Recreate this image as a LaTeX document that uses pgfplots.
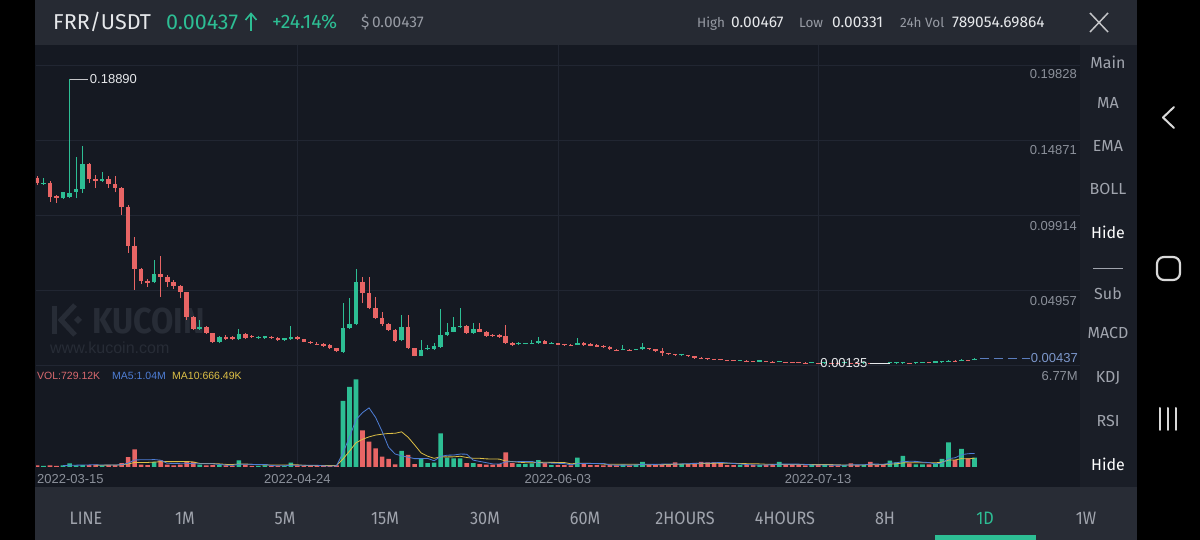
\documentclass[border=0pt]{standalone}
\usepackage{fontspec}
\setmainfont{Liberation Sans}
\newfontfamily\fira{Fira Sans}
\newfontfamily\firan[FakeStretch=0.9]{Fira Sans}
\usepackage{pgfplots}
\pgfplotsset{compat=1.18}
\usepackage{pgfplotstable}
\newcommand\fsz[1]{\fontsize{#1pt}{#1pt}\selectfont}

\definecolor{bgc}{HTML}{151922}
\definecolor{hdr}{HTML}{262A33}
\definecolor{side}{HTML}{1A1E27}
\definecolor{botbar}{HTML}{282C35}
\definecolor{gridc}{HTML}{212632}
\definecolor{kgreen}{HTML}{2DBE94}
\definecolor{kred}{HTML}{E86565}
\definecolor{lbl}{HTML}{8B909A}
\definecolor{hgray}{HTML}{979BA4}
\definecolor{txtw}{HTML}{E6E8EB}
\definecolor{ma5c}{HTML}{4E7ED6}
\definecolor{ma10c}{HTML}{DDBF45}
\definecolor{volc}{HTML}{D9696E}
\definecolor{wm}{HTML}{272C36}
\definecolor{curc}{HTML}{5B7DBE}
\definecolor{sidegray}{HTML}{A0A4AD}

% day index: 0 = 2022-03-15
\pgfplotstableread{
d o h l c v
1 0.12002 0.12379 0.11916 0.12068 0.08
4 0.11037 0.11454 0.10991 0.11434 0.12
5 0.11123 0.18890 0.11024 0.11407 0.27
6 0.11474 0.13787 0.11037 0.11652 0.12
7 0.11632 0.14494 0.11387 0.13304 0.15
10 0.12201 0.12775 0.12134 0.12313 0.12
18 0.05486 0.06959 0.05439 0.06034 0.39
25 0.02419 0.02994 0.02366 0.02551 0.19
28 0.01560 0.01936 0.01454 0.01851 0.15
31 0.01718 0.02399 0.01672 0.02049 0.52
34 0.01831 0.01936 0.01771 0.01870 0.08
35 0.01824 0.01969 0.01771 0.01917 0.12
38 0.01692 0.01837 0.01639 0.01784 0.08
39 0.01738 0.02617 0.01692 0.01851 0.33
47 0.00899 0.04137 0.00846 0.02445 5.10
48 0.02445 0.04428 0.02399 0.02730 6.18
49 0.02710 0.06345 0.02663 0.05525 6.77
56 0.01672 0.03324 0.01606 0.02551 1.24
59 0.00615 0.01672 0.00582 0.01011 0.62
60 0.01057 0.01342 0.01011 0.01163 0.29
61 0.01077 0.01474 0.01044 0.01276 0.33
62 0.01229 0.03701 0.01176 0.02003 2.60
63 0.02003 0.02776 0.01936 0.02221 0.72
64 0.02221 0.03212 0.02168 0.02551 0.67
65 0.02511 0.03767 0.02465 0.02597 0.67
67 0.02115 0.02815 0.02069 0.02379 0.29
74 0.01388 0.01507 0.01342 0.01454 0.23
75 0.01408 0.01474 0.01375 0.01441 0.23
76 0.01408 0.01672 0.01375 0.01494 0.27
77 0.01454 0.01890 0.01408 0.01626 0.54
79 0.01434 0.01507 0.01408 0.01474 0.15
83 0.01342 0.01824 0.01309 0.01494 0.72
90 0.01037 0.01322 0.01011 0.01077 0.19
92 0.01037 0.01110 0.01011 0.01077 0.19
93 0.01057 0.01494 0.01024 0.01190 0.39
99 0.00661 0.00727 0.00641 0.00694 0.23
108 0.00291 0.00350 0.00271 0.00317 0.15
111 0.00251 0.00311 0.00231 0.00284 0.15
114 0.00218 0.00271 0.00198 0.00245 0.39
119 0.00150 0.00200 0.00140 0.00180 0.19
121 0.00160 0.00178 0.00152 0.00168 0.15
124 0.00152 0.00168 0.00146 0.00160 0.15
127 0.00145 0.00160 0.00140 0.00152 0.15
131 0.00142 0.00155 0.00135 0.00150 0.50
132 0.00150 0.00160 0.00140 0.00155 0.35
133 0.00155 0.00172 0.00150 0.00165 0.85
135 0.00158 0.00185 0.00155 0.00175 0.20
136 0.00175 0.00200 0.00170 0.00190 0.20
138 0.00182 0.00215 0.00178 0.00200 0.28
139 0.00200 0.00250 0.00195 0.00230 0.62
140 0.00230 0.00340 0.00225 0.00310 1.91
142 0.00290 0.00390 0.00280 0.00360 1.39
144 0.00340 0.00467 0.00331 0.00437 0.73
}\gd

\pgfplotstableread{
d o h l c v
0 0.12379 0.12511 0.11916 0.12049 0.12
2 0.12068 0.12181 0.10813 0.11143 0.12
3 0.11189 0.11255 0.10747 0.11057 0.08
8 0.13304 0.13370 0.12049 0.12293 0.15
9 0.12293 0.12577 0.11718 0.12201 0.19
11 0.12293 0.12511 0.11738 0.11982 0.15
12 0.11982 0.12511 0.11434 0.11698 0.15
13 0.11698 0.11784 0.09934 0.10482 0.29
14 0.10482 0.10594 0.07442 0.07885 0.77
15 0.07885 0.08460 0.04977 0.06365 1.37
16 0.06365 0.06431 0.05373 0.05592 0.19
17 0.05592 0.05704 0.05195 0.05459 0.15
19 0.06034 0.07224 0.04534 0.05816 0.52
20 0.05856 0.05968 0.05195 0.05486 0.18
21 0.05486 0.05638 0.05043 0.05261 0.13
22 0.05261 0.05307 0.04428 0.04825 0.19
23 0.04825 0.04877 0.02994 0.03172 0.39
24 0.03172 0.03258 0.02333 0.02419 0.39
26 0.02511 0.02597 0.02069 0.02115 0.12
27 0.02115 0.02135 0.01494 0.01560 0.15
29 0.01890 0.02003 0.01705 0.01758 0.12
30 0.01851 0.01936 0.01672 0.01718 0.09
32 0.02049 0.02135 0.01738 0.01824 0.19
33 0.01910 0.02003 0.01804 0.01870 0.09
36 0.01870 0.01936 0.01738 0.01784 0.09
37 0.01804 0.01870 0.01626 0.01672 0.08
40 0.01870 0.01936 0.01672 0.01718 0.12
41 0.01718 0.01771 0.01507 0.01560 0.09
42 0.01560 0.01606 0.01408 0.01454 0.08
43 0.01428 0.01507 0.01342 0.01395 0.06
44 0.01428 0.01474 0.01229 0.01276 0.08
45 0.01322 0.01375 0.01077 0.01124 0.09
46 0.01124 0.01143 0.00879 0.00945 0.12
50 0.05525 0.05836 0.04117 0.04758 2.83
51 0.04758 0.05816 0.03688 0.03767 1.95
52 0.03767 0.04514 0.03060 0.03106 1.44
53 0.03106 0.03542 0.02630 0.02710 0.80
54 0.02710 0.02763 0.02267 0.02333 0.62
55 0.02333 0.02399 0.01573 0.01626 0.21
57 0.02551 0.03324 0.01077 0.01124 0.93
58 0.01124 0.01176 0.00582 0.00615 0.23
66 0.02597 0.02663 0.02069 0.02115 0.29
68 0.02379 0.02776 0.02168 0.02221 0.23
69 0.02221 0.02267 0.01903 0.01936 0.19
70 0.02003 0.02069 0.01903 0.01963 0.19
71 0.02003 0.02036 0.01837 0.01890 0.23
72 0.01936 0.02663 0.01408 0.01454 1.13
73 0.01454 0.01507 0.01276 0.01322 0.29
78 0.01606 0.01672 0.01375 0.01408 0.31
80 0.01454 0.01494 0.01328 0.01361 0.15
81 0.01388 0.01408 0.01276 0.01322 0.15
82 0.01342 0.01375 0.01276 0.01302 0.12
84 0.01454 0.01507 0.01276 0.01322 0.23
85 0.01388 0.01441 0.01243 0.01276 0.15
86 0.01342 0.01388 0.01190 0.01229 0.15
87 0.01295 0.01342 0.01143 0.01190 0.12
88 0.01229 0.01276 0.01011 0.01057 0.15
89 0.01031 0.01077 0.00945 0.00991 0.12
91 0.01031 0.01057 0.00965 0.00991 0.12
94 0.01124 0.01176 0.01011 0.01057 0.15
95 0.01077 0.01110 0.00879 0.00925 0.15
96 0.00945 0.01124 0.00634 0.00793 0.23
97 0.00813 0.00846 0.00681 0.00727 0.23
98 0.00727 0.00747 0.00628 0.00661 0.35
100 0.00661 0.00681 0.00562 0.00595 0.23
101 0.00595 0.00615 0.00430 0.00463 0.31
102 0.00496 0.00529 0.00430 0.00463 0.39
103 0.00463 0.00482 0.00370 0.00397 0.35
104 0.00423 0.00449 0.00363 0.00390 0.35
105 0.00397 0.00416 0.00330 0.00350 0.35
106 0.00363 0.00383 0.00311 0.00330 0.15
107 0.00330 0.00350 0.00271 0.00291 0.15
109 0.00311 0.00337 0.00251 0.00271 0.15
110 0.00284 0.00311 0.00231 0.00251 0.19
112 0.00271 0.00291 0.00218 0.00231 0.15
113 0.00251 0.00271 0.00198 0.00218 0.23
115 0.00231 0.00251 0.00178 0.00198 0.19
116 0.00218 0.00238 0.00165 0.00185 0.15
117 0.00205 0.00218 0.00152 0.00165 0.15
118 0.00185 0.00205 0.00140 0.00152 0.12
120 0.00170 0.00180 0.00150 0.00160 0.15
122 0.00168 0.00175 0.00150 0.00158 0.12
123 0.00160 0.00170 0.00145 0.00152 0.12
125 0.00160 0.00166 0.00144 0.00150 0.27
126 0.00150 0.00158 0.00140 0.00145 0.15
128 0.00152 0.00158 0.00140 0.00146 0.39
129 0.00146 0.00152 0.00138 0.00142 0.15
130 0.00150 0.00156 0.00138 0.00142 0.23
134 0.00165 0.00175 0.00152 0.00158 0.27
137 0.00190 0.00198 0.00175 0.00182 0.20
141 0.00310 0.00330 0.00270 0.00290 0.54
143 0.00360 0.00380 0.00320 0.00340 0.67
}\rd

\pgfplotstableread{
d m5 m10
4 0.104 nan
5 0.134 nan
6 0.142 nan
7 0.148 nan
8 0.162 nan
9 0.176 0.140
10 0.146 0.140
11 0.152 0.147
12 0.152 0.150
13 0.180 0.171
14 0.296 0.236
15 0.546 0.346
16 0.554 0.353
17 0.554 0.353
18 0.574 0.377
19 0.524 0.410
20 0.286 0.416
21 0.274 0.414
22 0.282 0.418
23 0.282 0.428
24 0.256 0.390
25 0.258 0.272
26 0.256 0.265
27 0.248 0.265
28 0.200 0.241
29 0.146 0.201
30 0.126 0.192
31 0.206 0.231
32 0.214 0.231
33 0.202 0.201
34 0.194 0.170
35 0.200 0.163
36 0.114 0.160
37 0.092 0.153
38 0.090 0.146
39 0.140 0.167
40 0.140 0.170
41 0.140 0.127
42 0.140 0.116
43 0.136 0.113
44 0.086 0.113
45 0.080 0.110
46 0.086 0.113
47 1.090 0.615
48 2.314 1.225
49 3.652 1.869
50 4.200 2.140
51 4.566 2.326
52 3.834 2.462
53 2.758 2.536
54 1.528 2.590
55 1.004 2.602
56 0.862 2.714
57 0.760 2.297
58 0.646 1.702
59 0.646 1.087
60 0.662 0.833
61 0.480 0.671
62 0.814 0.787
63 0.912 0.779
64 0.922 0.784
65 0.998 0.830
66 0.990 0.735
67 0.528 0.671
68 0.430 0.671
69 0.334 0.628
70 0.238 0.618
71 0.226 0.608
72 0.394 0.461
73 0.406 0.418
74 0.414 0.374
75 0.422 0.330
76 0.430 0.328
77 0.312 0.353
78 0.316 0.361
79 0.300 0.357
80 0.284 0.353
81 0.260 0.345
82 0.176 0.244
83 0.258 0.287
84 0.274 0.287
85 0.274 0.279
86 0.274 0.267
87 0.274 0.225
88 0.160 0.209
89 0.138 0.206
90 0.146 0.210
91 0.140 0.207
92 0.154 0.214
93 0.202 0.181
94 0.208 0.173
95 0.200 0.173
96 0.222 0.181
97 0.230 0.192
98 0.222 0.212
99 0.238 0.223
100 0.254 0.227
101 0.270 0.246
102 0.302 0.266
103 0.302 0.262
104 0.326 0.282
105 0.350 0.302
106 0.318 0.294
107 0.270 0.286
108 0.230 0.266
109 0.190 0.258
110 0.158 0.254
111 0.158 0.238
112 0.158 0.214
113 0.174 0.202
114 0.222 0.206
115 0.222 0.190
116 0.222 0.190
117 0.222 0.190
118 0.200 0.187
119 0.160 0.191
120 0.152 0.187
121 0.152 0.187
122 0.146 0.184
123 0.146 0.173
124 0.138 0.149
125 0.162 0.157
126 0.162 0.157
127 0.168 0.157
128 0.222 0.184
129 0.222 0.180
130 0.214 0.188
131 0.284 0.223
132 0.324 0.246
133 0.416 0.319
134 0.440 0.331
135 0.434 0.324
136 0.374 0.329
137 0.344 0.334
138 0.230 0.323
139 0.300 0.370
140 0.642 0.538
141 0.710 0.542
142 0.948 0.646
143 1.026 0.628
144 1.048 0.674
}\mad

\pgfplotsset{kaxis/.style={
  scale only axis, anchor=south west, width=1044pt,
  xmin=-0.154, xmax=160.2,
  axis line style={draw=none}, tick style={draw=none}, major tick length=0pt,
  xtick={40,80,120}, xticklabels={,,},
  tick label style={opacity=0},
  grid=major, major grid style={gridc, line width=0.7pt},
  clip=true,
}}

\begin{document}
\begin{tikzpicture}
\useasboundingbox (0,0) rectangle (1200pt,540pt);
\fill[black] (0,0) rectangle (1200pt,540pt);
\begin{scope}[x=1pt,y=-1pt,shift={(0pt,540pt)}, every node/.style={inner sep=0pt}]
  \fill[bgc] (35,45) rectangle (1080,487);
  \fill[side] (1080,45) rectangle (1137,487);
  \fill[hdr] (35,0) rectangle (1137,45);
  \fill[botbar] (35,487) rectangle (1137,540);
  % watermark
  \draw[wm, line width=5pt] (54,306) -- (54,334);
  \draw[wm, line width=5pt, line join=miter] (75,305) -- (61,320) -- (75,335);
  \fill[wm] (78,316) -- (82,320) -- (78,324) -- (74,320) -- cycle;
  \node[anchor=base west, font=\firan\bfseries\fsz{36}, text=wm] at (92,334) {KUCOIN};
  \node[anchor=base west, font=\fsz{16}, text=wm] at (50,354) {www.kucoin.com};
\end{scope}

% ---------- price panel ----------
\begin{axis}[kaxis, at={(36pt,170pt)}, height=325pt,
  ymin=-0.0031, ymax=0.21169,
  ytick={0,0.04957,0.09914,0.14871,0.19828}, yticklabels={,,,,}]
  \addplot[kgreen, line width=1pt, quiver={u=0, v=\thisrow{h}-\thisrow{l}}] table[x=d, y=l] {\gd};
  \addplot[kred, line width=1pt, quiver={u=0, v=\thisrow{h}-\thisrow{l}}] table[x=d, y=l] {\rd};
  \addplot[kgreen, line width=4.6pt, quiver={u=0, v={max(\thisrow{c}-\thisrow{o},0.0007)}}] table[x=d, y=o] {\gd};
  \addplot[kred, line width=4.6pt, quiver={u=0, v={min(\thisrow{c}-\thisrow{o},-0.0007)}}] table[x=d, y=o] {\rd};
  \draw[txtw!85!black, line width=0.8pt] (axis cs:5,0.18890) -- ++(18pt,0pt)
     node[anchor=west, inner sep=2pt, font=\fsz{13}, text=txtw] {0.18890};
  \draw[txtw, line width=1pt] (axis cs:131,0.00135) -- ++(-20pt,0pt)
     node[anchor=east, inner sep=2pt, font=\fsz{13}, text=txtw] {0.00135};
  \draw[curc, line width=0.9pt, dash pattern=on 9pt off 5pt] (axis cs:144.8,0.00437) -- (axis cs:152.5,0.00437);
\end{axis}

% ---------- volume panel ----------
\begin{axis}[kaxis, at={(36pt,73pt)}, height=97pt,
  ymin=0, ymax=7.49, ytick=\empty]
  \addplot[ybar, bar width=4.6pt, bar shift=0pt, fill=kgreen, draw=none] table[x=d, y=v] {\gd};
  \addplot[ybar, bar width=4.6pt, bar shift=0pt, fill=kred, draw=none] table[x=d, y=v] {\rd};
  \addplot[ma10c, line width=0.8pt, mark=none] table[x=d, y=m10] {\mad};
  \addplot[ma5c, line width=0.8pt, mark=none] table[x=d, y=m5] {\mad};
\end{axis}

\begin{scope}[x=1pt,y=-1pt,shift={(0pt,540pt)}, every node/.style={inner sep=0pt}]
  % header
  \node[anchor=base west, font=\fira\fsz{21.5}, text=txtw] at (53,29.5) {FRR/USDT};
  \node[anchor=base west, font=\fira\fsz{21.5}, text=kgreen] at (166,29.5) {0.00437};
  \draw[kgreen, line width=1.6pt] (251,31) -- (251,14);
  \draw[kgreen, line width=1.6pt] (245.5,20) -- (251,13.5) -- (256.5,20);
  \node[anchor=base west, font=\fira\fsz{19.5}, text=kgreen] at (272,29) {+24.14\%};
  \node[anchor=base west, font=\fira\fsz{15.5}, text=hgray] at (361,28) {\$\,0.00437};
  \node[anchor=base west, font=\fira\fsz{13.5}, text=hgray] at (697,27.5) {High};
  \node[anchor=base west, font=\fira\fsz{15.5}, text=txtw] at (731,28) {0.00467};
  \node[anchor=base west, font=\fira\fsz{13.5}, text=hgray] at (799,27.5) {Low};
  \node[anchor=base west, font=\fira\fsz{15.5}, text=txtw] at (832,28) {0.00331};
  \node[anchor=base west, font=\fira\fsz{13.5}, text=hgray] at (900,27.5) {24h Vol};
  \node[anchor=base west, font=\fira\fsz{15.5}, text=txtw] at (952,28) {789054.69864};
  \draw[txtw!85!black, line width=1.5pt] (1090,13) -- (1108,32) (1108,13) -- (1090,32);
  % price labels
  \foreach \yy/\tt in {78.7/0.19828, 154.7/0.14871, 230.7/0.09914, 305.7/0.04957}
    \node[anchor=base east, font=\fsz{13}, text=lbl] at (1077,\yy) {\tt};
  \node[anchor=base east, font=\fsz{13}, text=curc!80!white] at (1078,362.5) {0.00437};
  \node[anchor=base east, font=\fsz{13}, text=lbl] at (1078,380.5) {6.77M};
  % volume legend
  \node[anchor=base west, font=\fsz{10.5}, text=volc] at (37,380) {VOL:729.12K};
  \node[anchor=base west, font=\fsz{10.5}, text=ma5c] at (112,380) {MA5:1.04M};
  \node[anchor=base west, font=\fsz{10.5}, text=ma10c] at (172,380) {MA10:666.49K};
  % dates
  \node[anchor=base west, font=\fsz{13}, text=lbl] at (37,483.5) {2022-03-15};
  \node[anchor=base, font=\fsz{13}, text=lbl] at (297.4,483.5) {2022-04-24};
  \node[anchor=base, font=\fsz{13}, text=lbl] at (557.8,483.5) {2022-06-03};
  \node[anchor=base, font=\fsz{13}, text=lbl] at (818.2,483.5) {2022-07-13};
  % sidebar
  \foreach \yy/\tt in {68.5/Main, 108.5/MA, 151.5/EMA, 194.5/BOLL, 299.5/Sub, 338.5/MACD, 382.5/KDJ, 426.5/RSI}
    \node[anchor=base, font=\fira\fsz{16}, text=sidegray] at (1108,\yy) {\tt};
  \node[anchor=base, font=\fira\fsz{16}, text=white] at (1108,238.5) {Hide};
  \node[anchor=base, font=\fira\fsz{16}, text=white] at (1108,470.5) {Hide};
  \draw[sidegray, line width=0.8pt] (1093,268) -- (1123,268);
  % nav bar
  \draw[white!85!black, line width=2pt, line cap=round, line join=round] (1174,107) -- (1163,117.5) -- (1174,128);
  \draw[white!85!black, line width=2.2pt, rounded corners=7pt] (1157,257) rectangle (1180,280);
  \draw[white!85!black, line width=2pt, line cap=round] (1160,408) -- (1160,430) (1168,408) -- (1168,430) (1176,408) -- (1176,430);
  % bottom bar
  \foreach \xx/\tt in {86/LINE, 185/1M, 285/5M, 385/15M, 485/30M, 585/60M, 685/2HOURS, 785/4HOURS, 885/8H, 1086/1W}
    \node[anchor=base, font=\firan\fsz{18}, text=sidegray] at (\xx,524.5) {\tt};
  \node[anchor=base, font=\firan\fsz{18}, text=kgreen] at (985,524.5) {1D};
  \fill[kgreen] (935,535) rectangle (1036,540);
\end{scope}
\end{tikzpicture}
\end{document}
